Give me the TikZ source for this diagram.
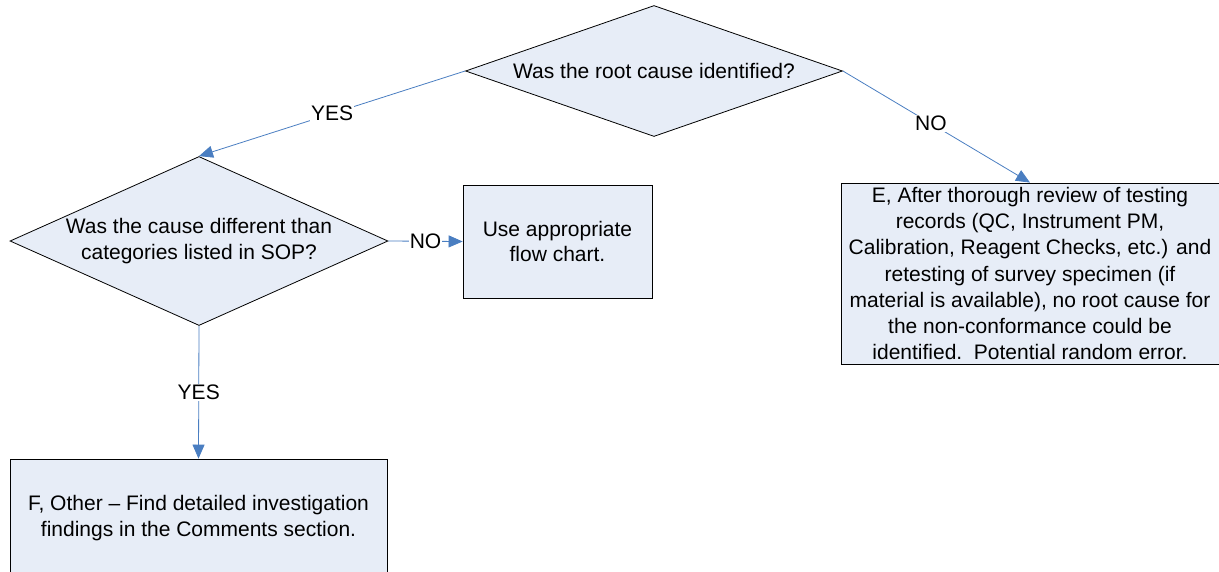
\documentclass[tikz,border=0pt]{standalone}
\usepackage{fontspec}
\setmainfont{Liberation Sans}
\usetikzlibrary{shapes.geometric,arrows.meta}
\definecolor{boxfill}{RGB}{231,237,247}
\definecolor{linkblue}{RGB}{74,126,193}
\begin{document}
\begin{tikzpicture}
[
    x=1pt, y=-1pt,
    every node/.style={font=\fontsize{21}{25.5}\selectfont},
    question/.style={draw, diamond, fill=boxfill, inner sep=0pt, align=center, line width=0.8pt},
    answer/.style={draw, rectangle, fill=boxfill, inner sep=2pt, align=center, line width=0.8pt},
    link/.style={draw=linkblue, line width=0.8pt, -{Triangle[length=14pt,width=12pt]}},
    tag/.style={fill=white, inner sep=1pt}
]
    \clip (0,0) rectangle (1219,571);

    % questions
    \node [question, aspect=2.88, minimum width=377pt, minimum height=131pt]
        (rootq) at (654,71) {Was the root cause identified?};
    \node [question, aspect=2.24, minimum width=378pt, minimum height=169pt]
        (causeq) at (199,241) {Was the cause different than\\categories listed in SOP?};

    % outcomes
    \node [answer, minimum width=189pt, minimum height=113pt]
        (flowbox) at (557.5,241.5) {Use appropriate\\flow chart.};
    \node [answer, minimum width=378pt, minimum height=181pt, font=\fontsize{21}{26.3}\selectfont]
        (ebox) at (1030,273.5) {E, After thorough review of testing\\records (QC, Instrument PM,\\Calibration, Reagent Checks, etc.) and\\retesting of survey specimen (if\\material is available), no root cause for\\the non-conformance could be\\identified.\ \ Potential random error.};
    \node [answer, minimum width=377pt, minimum height=118pt]
        (fbox) at (198.5,518) {F, Other – Find detailed investigation\\findings in the Comments section.};

    % connectors
    \draw [link] (rootq.west) -- node [tag] (yes1) {YES} (causeq.north);
    \draw [link] (rootq.east) -- node [tag, pos=0.47] (no1) {NO} (ebox.north);
    \draw [link] (causeq.east) -- node [tag] (no2) {NO} (flowbox.west);
    \draw [link] (causeq.south) -- node [tag] (yes2) {YES} (fbox.north);
\end{tikzpicture}
\end{document}
